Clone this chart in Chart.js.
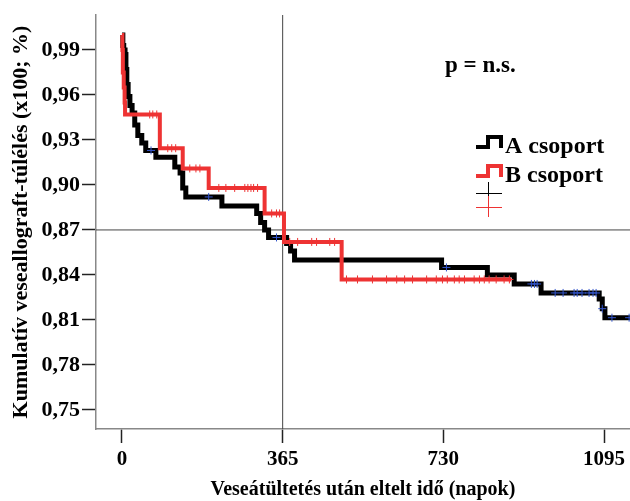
<!DOCTYPE html>
<html>
<head>
<meta charset="utf-8">
<script src="https://cdn.jsdelivr.net/npm/chart.js@4.4.1/dist/chart.umd.min.js"></script>
<style>
  html, body { margin: 0; padding: 0; background: #ffffff; }
  canvas { display: block; }
</style>
</head>
<body>
<canvas id="km" width="630" height="501"></canvas>
<script>
// ---- Data (days, cumulative survival) ----
const groupATimes = [0, 2, 4, 7, 9, 11, 14, 18, 23, 29, 36, 45, 54, 77, 120, 132, 138, 145, 227, 306, 315, 324, 333, 374, 383, 392, 726, 830, 891, 952, 1084, 1091, 1097, 1154];
const groupASurv  = [1.000, 0.993, 0.990, 0.987, 0.977, 0.967, 0.959, 0.953, 0.948, 0.940, 0.933, 0.928, 0.923, 0.9185, 0.912, 0.908, 0.898, 0.892, 0.886, 0.881, 0.875, 0.870, 0.865, 0.861, 0.856, 0.850, 0.845, 0.840, 0.834, 0.828, 0.824, 0.8175, 0.8115, 0.8115];

const groupBTimes = [0, 1, 2, 4, 6, 7, 86, 138, 197, 324, 368, 499, 884];
const groupBSurv  = [1.000, 0.990, 0.975, 0.965, 0.955, 0.947, 0.9245, 0.911, 0.898, 0.881, 0.862, 0.837, 0.837];

// censored observations
const censorATimes = [66, 197, 351, 737, 930, 937, 943, 984, 1002, 1027, 1034, 1045, 1061, 1070, 1077, 1091, 1113, 1152];
const censorASurv  = [0.923, 0.892, 0.865, 0.845, 0.834, 0.834, 0.834, 0.828, 0.828, 0.828, 0.828, 0.828, 0.828, 0.828, 0.828, 0.8175, 0.8115, 0.8115];

const censorBTimes = [63, 70, 79, 104, 113, 122, 154, 168, 177, 220, 236, 256, 279, 286, 293, 299, 308, 340, 351, 358, 381, 399, 431, 442, 472, 483, 510, 535, 569, 601, 624, 642, 660, 692, 714, 728, 739, 755, 766, 778, 800, 812, 823, 834, 850, 868, 880];
const censorBSurv  = [0.947, 0.947, 0.947, 0.9245, 0.9245, 0.9245, 0.911, 0.911, 0.911, 0.898, 0.898, 0.898, 0.898, 0.898, 0.898, 0.898, 0.898, 0.881, 0.881, 0.881, 0.862, 0.862, 0.862, 0.862, 0.862, 0.862, 0.837, 0.837, 0.837, 0.837, 0.837, 0.837, 0.837, 0.837, 0.837, 0.837, 0.837, 0.837, 0.837, 0.837, 0.837, 0.837, 0.837, 0.837, 0.837, 0.837, 0.837];

const xTicks = [0, 365, 730, 1095];
const yTicks = [0.75, 0.78, 0.81, 0.84, 0.87, 0.90, 0.93, 0.96, 0.99];
const xRange = [-59, 1154];
const yRange = [0.7373, 1.0133];
const refDay = 365;
const refSurv = 0.87;

const seriesLabels = ['A csoport', 'B csoport'];
const pText = 'p = n.s.';
const xTitle = 'Veseátültetés után eltelt idő (napok)';
const yTitle = 'Kumulatív veseallograft-túlélés (x100; %)';

// ---- build point tables ----
const toPts = (xs, ys) => xs.map((x, i) => ({ x: x, y: ys[i] }));

const FONT = '"Liberation Serif", "Times New Roman", serif';

const legendPlugin = {
  id: 'kmLegend',
  afterDraw(chart) {
    const ctx = chart.ctx;
    ctx.save();
    // p value text
    ctx.fillStyle = '#000';
    ctx.font = 'bold 23px ' + FONT;
    ctx.textBaseline = 'alphabetic';
    ctx.textAlign = 'left';
    ctx.fillText(pText, 445, 72);

    // step icons
    const drawStep = (color, yLow, yHigh) => {
      ctx.strokeStyle = color;
      ctx.lineWidth = 4;
      ctx.lineJoin = 'miter';
      ctx.lineCap = 'butt';
      ctx.beginPath();
      ctx.moveTo(476, yLow);
      ctx.lineTo(488, yLow);
      ctx.lineTo(488, yHigh);
      ctx.lineTo(501, yHigh);
      ctx.lineTo(501, yLow + 1);
      ctx.stroke();
    };
    drawStep('#000000', 147, 137);
    drawStep('#ee3333', 176, 166);

    ctx.fillStyle = '#000';
    ctx.font = 'bold 24px ' + FONT;
    ctx.fillText(seriesLabels[0], 505, 153);
    ctx.fillText(seriesLabels[1], 505, 182);

    // censor crosses
    const drawCross = (color, cy) => {
      ctx.strokeStyle = color;
      ctx.lineWidth = 1;
      ctx.beginPath();
      ctx.moveTo(476, cy + 0.5);
      ctx.lineTo(502, cy + 0.5);
      ctx.moveTo(488.5, cy - 11);
      ctx.lineTo(488.5, cy + 10);
      ctx.stroke();
    };
    drawCross('#000000', 193);
    drawCross('#ee3333', 207);
    ctx.restore();
  }
};

new Chart(document.getElementById('km'), {
  type: 'line',
  data: {
    datasets: [
      {
        label: 'ref-v',
        data: [{ x: refDay, y: yRange[0] }, { x: refDay, y: yRange[1] }],
        borderColor: '#444444', borderWidth: 1, pointRadius: 0, order: 10
      },
      {
        label: 'ref-h',
        data: [{ x: xRange[0], y: refSurv }, { x: xRange[1], y: refSurv }],
        borderColor: '#444444', borderWidth: 1, pointRadius: 0, order: 10
      },
      {
        label: seriesLabels[0],
        data: toPts(groupATimes, groupASurv),
        stepped: 'before',
        borderColor: '#000000', borderWidth: 5,
        borderJoinStyle: 'miter', borderCapStyle: 'butt',
        pointRadius: 0, order: 6
      },
      {
        label: seriesLabels[1],
        data: toPts(groupBTimes, groupBSurv),
        stepped: 'before',
        borderColor: '#ee3333', borderWidth: 4,
        borderJoinStyle: 'miter', borderCapStyle: 'butt',
        pointRadius: 0, order: 5
      },
      {
        label: 'censA',
        type: 'scatter',
        data: toPts(censorATimes, censorASurv),
        pointStyle: 'cross', pointRadius: 4, pointBorderWidth: 1,
        pointBorderColor: '#3355cc', borderColor: '#3355cc',
        showLine: false, order: 2
      },
      {
        label: 'censB',
        type: 'scatter',
        data: toPts(censorBTimes, censorBSurv),
        pointStyle: 'cross', pointRadius: 4, pointBorderWidth: 1,
        pointBorderColor: '#ee3333', borderColor: '#ee3333',
        showLine: false, order: 1
      }
    ]
  },
  options: {
    responsive: false,
    animation: false,
    devicePixelRatio: 1,
    layout: { autoPadding: false, padding: { top: 15, left: 0, right: 0, bottom: 0 } },
    plugins: {
      legend: { display: false },
      tooltip: { enabled: false }
    },
    elements: { line: { tension: 0, fill: false } },
    scales: {
      x: {
        type: 'linear',
        min: xRange[0], max: xRange[1],
        afterBuildTicks: (s) => { s.ticks = xTicks.map(v => ({ value: v })); },
        afterFit: (s) => { s.height = 72; s.paddingLeft = 0; s.paddingRight = 0; },
        ticks: {
          color: '#000',
          font: { family: FONT, size: 21, weight: 'bold', lineHeight: 1.2 },
          padding: 4,
          maxRotation: 0,
          callback: (v) => String(v)
        },
        grid: { drawOnChartArea: false, drawTicks: true, tickLength: 14, tickColor: '#222', tickWidth: 1.5 },
        border: { display: true, color: '#888888', width: 1.5 },
        title: {
          display: true, text: xTitle, color: '#000',
          font: { family: FONT, size: 20, weight: 'bold', lineHeight: 1 },
          padding: { top: 0, bottom: 1 }
        }
      },
      y: {
        type: 'linear',
        min: yRange[0], max: yRange[1],
        afterBuildTicks: (s) => { s.ticks = yTicks.map(v => ({ value: v })); },
        afterFit: (s) => { s.width = 96; s.paddingTop = 0; s.paddingBottom = 0; },
        ticks: {
          color: '#000',
          font: { family: FONT, size: 22, weight: 'bold', lineHeight: 1.2 },
          padding: 2,
          callback: (v) => v.toFixed(2).replace('.', ',')
        },
        grid: { drawOnChartArea: false, drawTicks: true, tickLength: 14, tickColor: '#222', tickWidth: 1.5 },
        border: { display: true, color: '#888888', width: 1.5 },
        title: {
          display: true, text: yTitle, color: '#000',
          font: { family: FONT, size: 22, weight: 'bold', lineHeight: 1 },
          padding: { top: 10, bottom: 0 }
        }
      }
    }
  },
  plugins: [legendPlugin]
});
</script>
</body>
</html>
